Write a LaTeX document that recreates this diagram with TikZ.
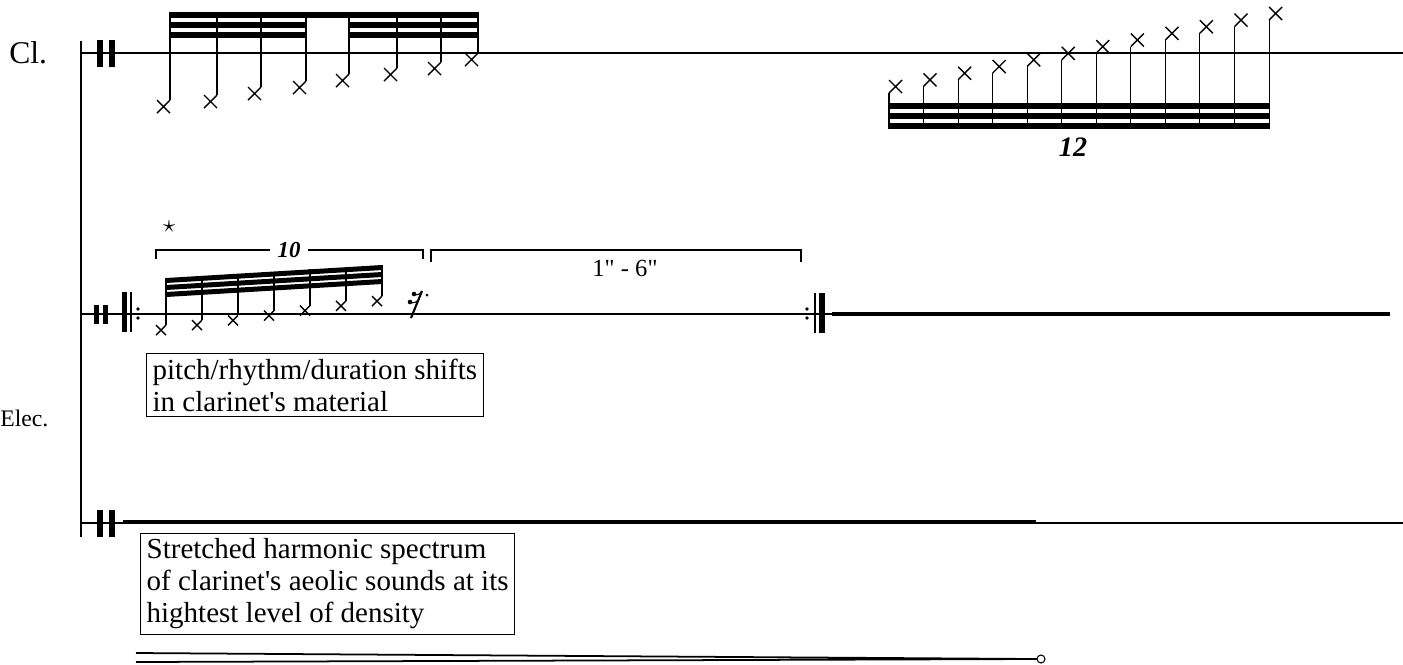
\documentclass[tikz,border=0pt]{standalone}
\usepackage{fontspec}
\setmainfont{Liberation Serif}[Ligatures=TeXOff]
\tikzset{
  staffline/.style={line width=0.6pt},
  stemline/.style={line width=0.6pt},
  xhead/.style={line width=0.8pt},
  durline/.style={line width=2.8pt},
  notebox/.style={draw,line width=0.6pt,align=left,inner xsep=3.5pt,inner ysep=3pt,font=\fontsize{16.5}{18.2}\selectfont},
  tuplet/.style={font=\fontsize{16}{16}\selectfont\bfseries\itshape},
}
\newcommand{\xhd}[3]{\draw[xhead](#1,#2)--++(#3,#3)(#1,#2)++(0,#3)--++(#3,-#3);}
\begin{document}
\begin{tikzpicture}[x=0.02cm,y=-0.02cm]
\useasboundingbox(0,0)rectangle(1403,664);
\node[anchor=base west,inner sep=0,font=\fontsize{18}{18}\selectfont](clname)at(9,63){Cl.};
\node[anchor=base west,inner sep=0,font=\fontsize{13.5}{14}\selectfont](elecname)at(0,426){Elec.};
\draw[line width=1pt](81,41)--(81,537);
\draw[staffline](81,53)--(1403,53);
\draw[staffline](81,314)--(1390,314);
\draw[staffline](81,523)--(1403,523);
\fill(97,40)rectangle(103,67);
\fill(109,40)rectangle(115,67);
\fill(94,305)rectangle(99,324);
\fill(103,305)rectangle(108,324);
\fill(97,510)rectangle(103,537);
\fill(109,510)rectangle(115,537);
% clarinet
\foreach \sx/\sb in {170/100,217/95,261/87,306/81,349/74,397/68,441/62,478/53}{
  \draw[stemline](\sx,12)--(\sx,\sb);
  \xhd{\sx-13}{\sb}{13}
}
\fill(170,12)rectangle(478,18);
\fill(170,22)rectangle(306,28);
\fill(170,32)rectangle(306,38);
\fill(349,22)rectangle(478,28);
\fill(349,32)rectangle(478,38);
\foreach \i in {0,...,11}{
  \pgfmathsetmacro{\sx}{889+34.55*\i}
  \pgfmathsetmacro{\st}{93-6.64*\i}
  \draw[stemline](\sx,\st)--(\sx,129);
  \xhd{\sx}{\st-13}{13}
}
\fill(889,103)rectangle(1269,109);
\fill(889,113)rectangle(1269,119);
\fill(889,123)rectangle(1269,129);
\node[tuplet](tup12)at(1073,147){12};
% electronics, upper
\fill(122,292)rectangle(127,332);
\draw[line width=1pt](131,292)--(131,332);
\fill(138,309)circle(1.8)(138,318)circle(1.8);
\node[font=\Large,inner sep=0](starmark)at(169,227){$\star$};
\node[tuplet,font=\fontsize{13}{13}\selectfont\bfseries\itshape,inner xsep=4pt](tup10)at(289,250){10};
\draw[staffline](156,259)|-(tup10.west);
\draw[staffline](tup10.east)-|(423,259);
\draw[staffline](431,262)--(431,250)--(801,250)--(801,262);
\node[font=\fontsize{14}{14}\selectfont](durlab)at(625,268){1" - 6"};
\foreach \i in {0,...,6}{
  \pgfmathsetmacro{\sx}{166+36*\i}
  \pgfmathsetmacro{\sb}{325-4.83*\i}
  \pgfmathsetmacro{\bt}{278-13*\i/6}
  \draw[stemline](\sx,\bt)--(\sx,\sb);
  \xhd{\sx-10}{\sb}{10}
}
\foreach \o in {0,7,14}
  \fill(166,278+\o)--(382,265+\o)--(382,270+\o)--(166,283+\o)--cycle;
\fill(414,294)circle(2.3)(410,302)circle(2.3);
\draw[line width=0.6pt](414,294)..controls(417,296)and(420,294)..(422,291);
\draw[line width=0.6pt](410,302)..controls(413,304)and(417,302)..(419,299);
\draw[line width=1.2pt](422,291)--(411,318);
\fill(427,295)circle(1.5);
\fill(807,309)circle(1.8)(807,318)circle(1.8);
\draw[line width=1pt](815,293)--(815,333);
\fill(819,293)rectangle(825,333);
\draw[line width=2.3pt](832,314)--(1390,314);
\node[notebox,anchor=north west](shiftnote)at(146,353){pitch/rhythm/duration shifts\\in clarinet's material};
% electronics, lower
\draw[durline](123,522)--(1036,522);
\node[notebox,anchor=north west](spectrumnote)at(140,533){Stretched harmonic spectrum\\of clarinet's aeolic sounds at its\\hightest level of density};
\coordinate(niente)at(1037,659);
\draw[line width=1pt](136,653)--(niente)(136,662)--(niente);
\draw[line width=0.6pt,fill=white](1041,659)circle(4);
\end{tikzpicture}
\end{document}
